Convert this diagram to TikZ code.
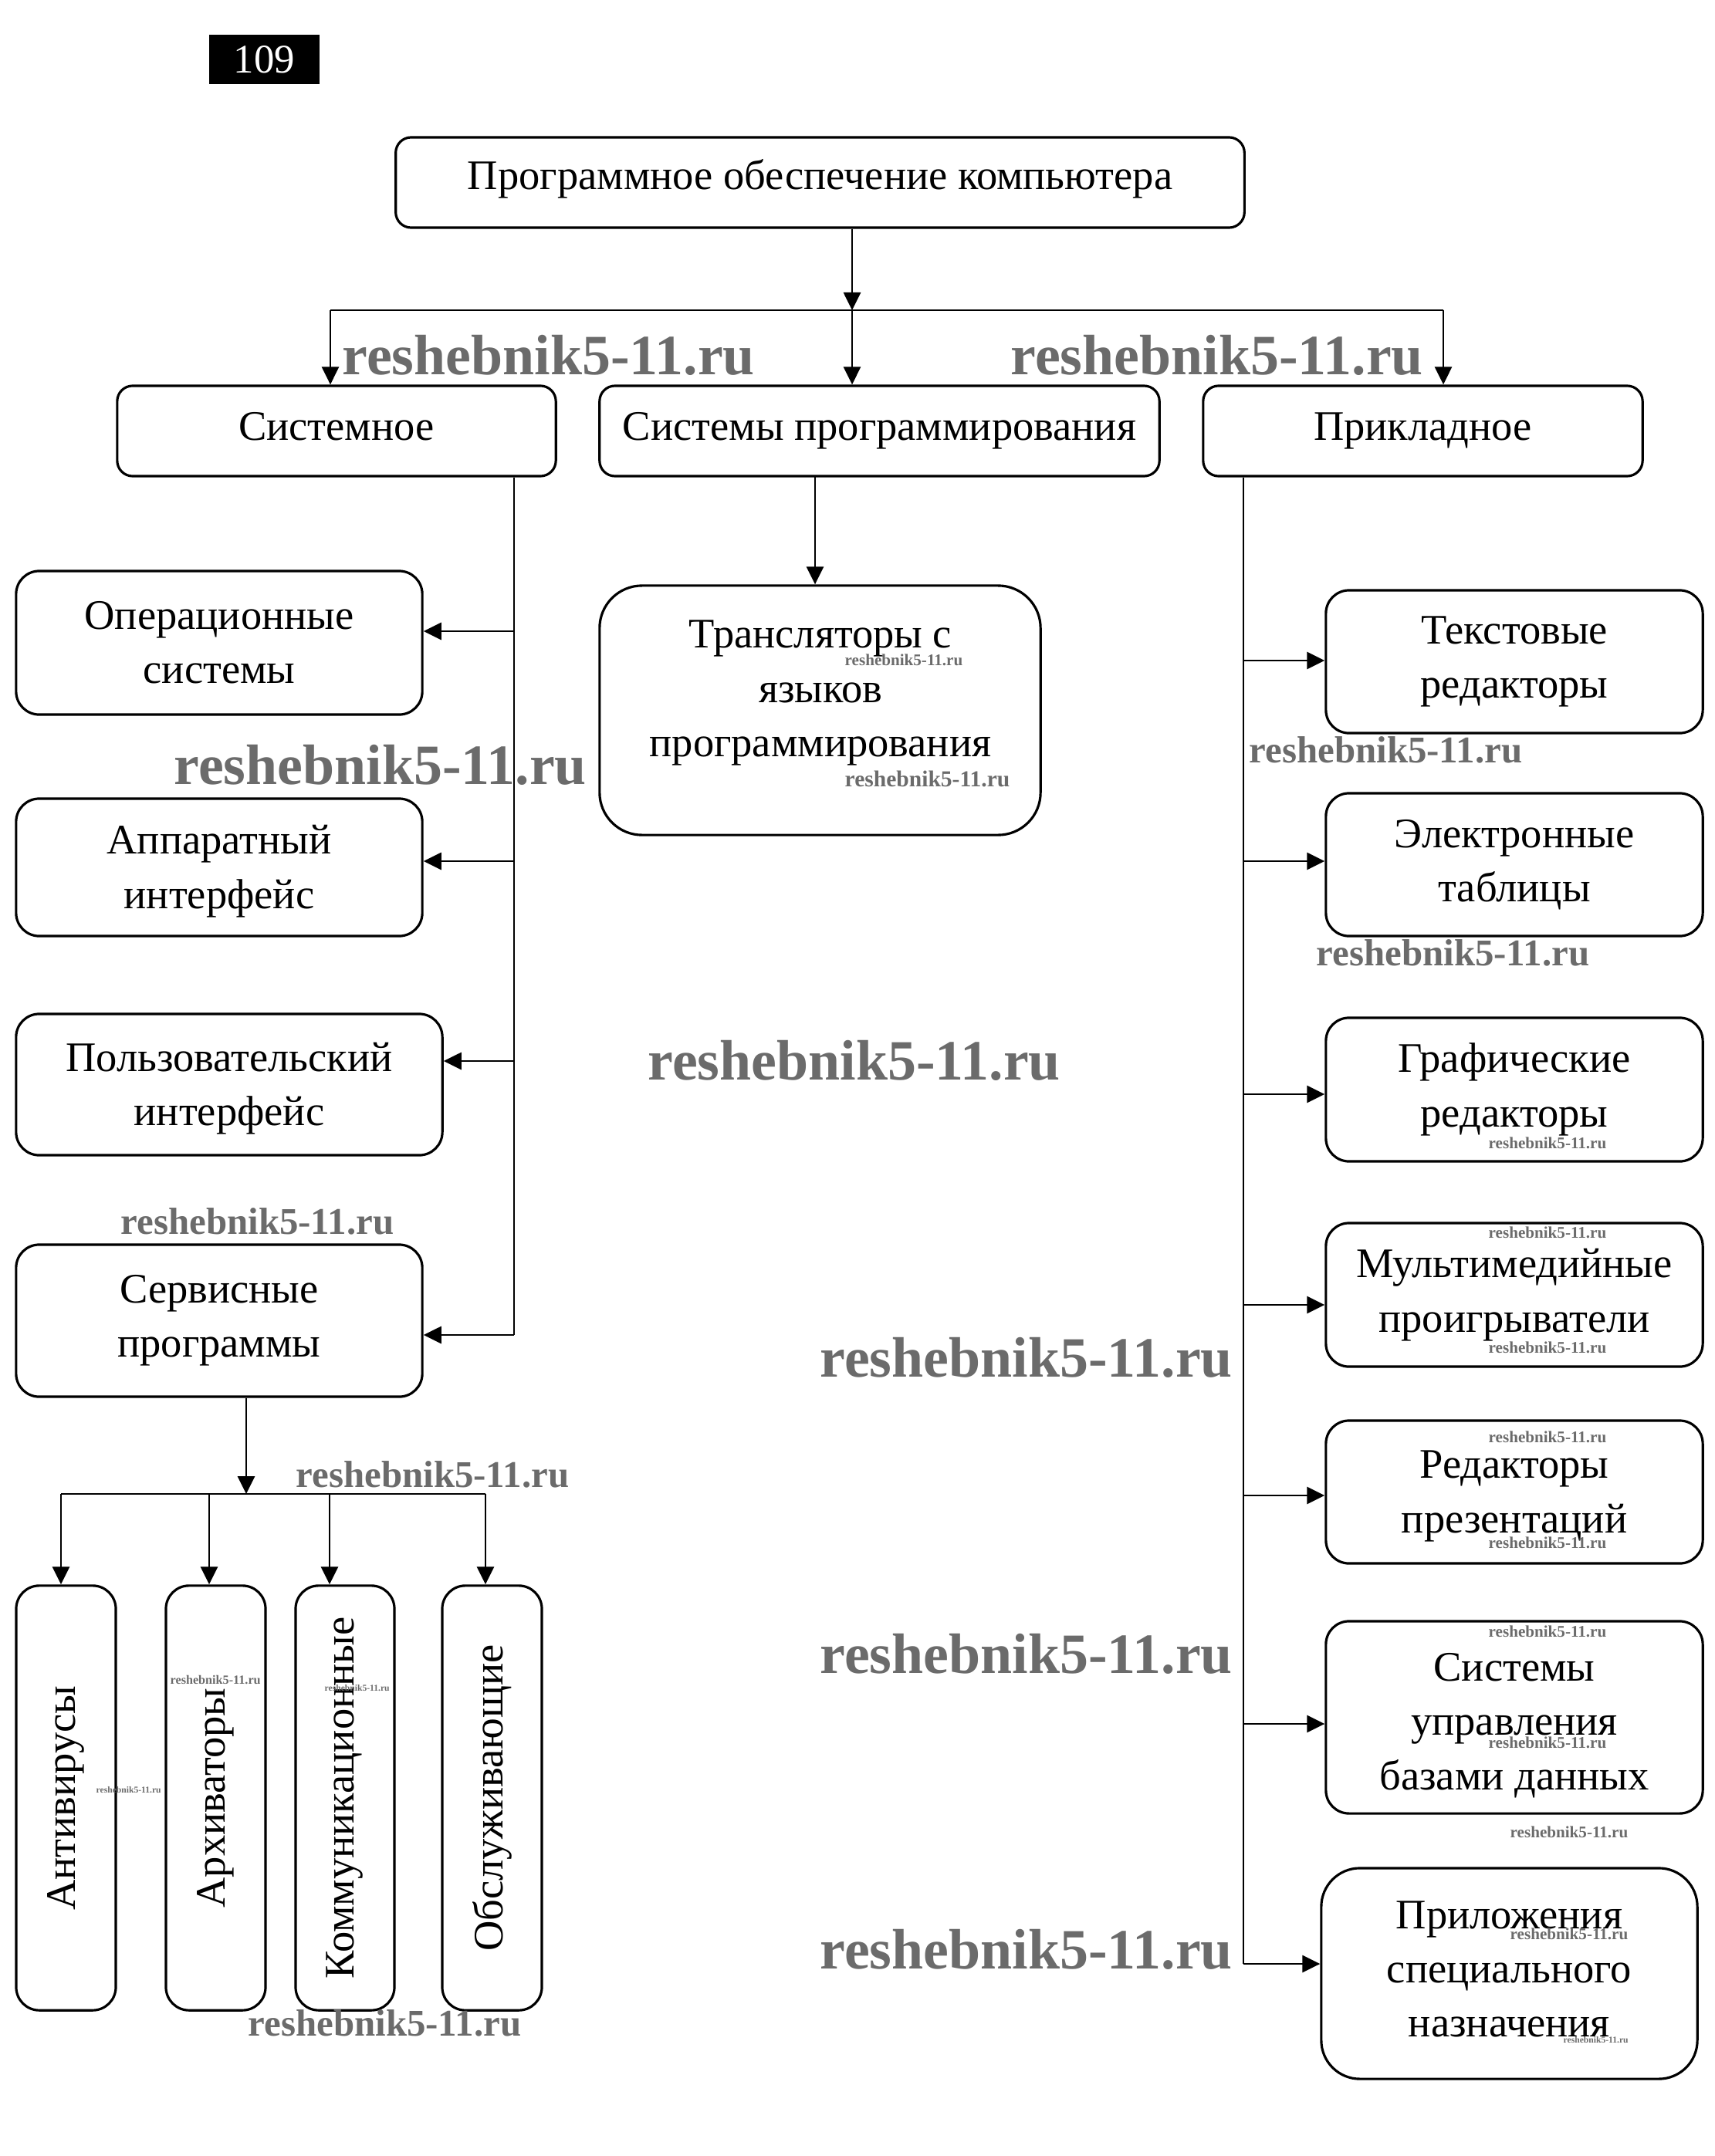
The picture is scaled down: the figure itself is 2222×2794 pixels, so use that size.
\documentclass[tikz,border=0pt]{standalone}
\usepackage{fontspec}
\setmainfont{Liberation Serif}
\usetikzlibrary{arrows.meta}
\newcommand{\mainsz}{\fontsize{15.5pt}{20pt}\selectfont}
\begin{document}
\begin{tikzpicture}[x=0.01cm,y=-0.01cm,
  box/.style={draw, line width=0.9pt, rounded corners=0.2cm, inner sep=0pt, align=center, font=\mainsz},
  boxb/.style={box, rounded corners=0.3cm},
  txt/.style={inner sep=0pt, align=center, font=\mainsz},
  arr/.style={-{Triangle[length=0.23cm,width=0.22cm]}, line width=0.8pt},
  ln/.style={line width=0.8pt},
  wm/.style={inner sep=0pt, anchor=base west, text=black!58, font=\bfseries\fontsize{#1}{#1}\selectfont}
]
\useasboundingbox (0,0) rectangle (2222,2794);

% page number
\node[fill=black, text=white, inner sep=0pt, minimum width=1.43cm, minimum height=0.64cm, font=\fontsize{15pt}{16pt}\selectfont] (pg) at (342.5,77) {109};

% level 0 and 1
\node[box, minimum width=10.99cm, minimum height=1.17cm] (top) at (1062.5,236.5) {};
\node[txt] (topt) at (1062.5,231.5) {Программное обеспечение компьютера};
\node[box, minimum width=5.68cm, minimum height=1.17cm] (sys) at (436,558.5) {Системное\vphantom{р}};
\node[box, minimum width=7.25cm, minimum height=1.17cm] (sp) at (1139.5,558.5) {Системы программирования};
\node[box, minimum width=5.69cm, minimum height=1.17cm] (app) at (1843.5,558.5) {Прикладное};

% system software
\node[boxb, minimum width=5.26cm, minimum height=1.86cm] (os) at (284,833) {Операционные\\системы};
\node[boxb, minimum width=5.26cm, minimum height=1.78cm] (hw) at (284,1124) {};
\node[txt] (hwt) at (284,1129) {Аппаратный\\интерфейс};
\node[boxb, minimum width=5.52cm, minimum height=1.83cm] (ui) at (297,1405.5) {};
\node[txt] (uit) at (297,1410.5) {Пользовательский\\интерфейс};
\node[boxb, minimum width=5.26cm, minimum height=1.97cm] (serv) at (284,1711.5) {Сервисные\\программы};

% service programs
\node[boxb, minimum width=1.29cm, minimum height=5.5cm] (av) at (85.5,2330) {};
\node[boxb, minimum width=1.29cm, minimum height=5.5cm] (arch) at (279.5,2330) {};
\node[boxb, minimum width=1.28cm, minimum height=5.5cm] (comm) at (447,2330) {};
\node[boxb, minimum width=1.29cm, minimum height=5.5cm] (obsl) at (637.5,2330) {};
\node[txt, rotate=90] (avt) at (av.center) {Антивирусы};
\node[txt, rotate=90] (archt) at (arch.center) {Архиваторы};
\node[txt, rotate=90] (commt) at (comm.center) {Коммуникационные};
\node[txt, rotate=90] (obslt) at (obsl.center) {Обслуживающие};

% programming systems
\node[box, rounded corners=0.55cm, minimum width=5.71cm, minimum height=3.23cm] (tr) at (1062.5,920.5) {};
\node[txt] (trt) at (1063,898) {Трансляторы с\\языков\\программирования};

% application software
\node[boxb, minimum width=4.88cm, minimum height=1.85cm] (te) at (1962,857.5) {Текстовые\\редакторы};
\node[boxb, minimum width=4.88cm, minimum height=1.85cm] (ss) at (1962,1120.5) {Электронные\\таблицы};
\node[boxb, minimum width=4.88cm, minimum height=1.86cm] (ge) at (1962,1412) {Графические\\редакторы};
\node[boxb, minimum width=4.88cm, minimum height=1.86cm] (mm) at (1962,1678) {Мультимедийные\\проигрыватели};
\node[boxb, minimum width=4.88cm, minimum height=1.85cm] (pe) at (1962,1933.5) {};
\node[txt] (pet) at (1962,1939) {Редакторы\\презентаций};
\node[boxb, minimum width=4.88cm, minimum height=2.49cm] (db) at (1962,2225.5) {};
\node[txt] (dbt) at (1962,2236) {Системы\\управления\\базами данных};
\node[box, rounded corners=0.5cm, minimum width=4.87cm, minimum height=2.73cm] (spec) at (1955.5,2557.5) {};
\node[txt] (spect) at (1955.5,2552) {Приложения\\специального\\назначения};

% top connectors
\coordinate (c1) at (1104,402);
\coordinate (hL) at (428,402);
\coordinate (hR) at (1870,402);
\draw[arr] (top.south -| c1) -- (c1);
\draw[ln] (hL) -- (hR);
\draw[arr] (hL) -- (hL |- sys.north);
\draw[arr] (c1) -- (c1 |- sp.north);
\draw[arr] (hR) -- (hR |- app.north);

% system branch
\coordinate (s1) at (666,818);
\coordinate (s2) at (666,1116);
\coordinate (s3) at (666,1375);
\coordinate (s4) at (666,1730);
\draw[ln] (sys.south -| s4) -- (s4);
\draw[arr] (s1) -- (s1 -| os.east);
\draw[arr] (s2) -- (s2 -| hw.east);
\draw[arr] (s3) -- (s3 -| ui.east);
\draw[arr] (s4) -- (s4 -| serv.east);

% service branch
\coordinate (v0) at (319,1936);
\coordinate (v1) at (79,1936);
\coordinate (v2) at (271,1936);
\coordinate (v3) at (427,1936);
\coordinate (v4) at (629,1936);
\draw[arr] (serv.south -| v0) -- (v0);
\draw[ln] (v1) -- (v4);
\draw[arr] (v1) -- (v1 |- av.north);
\draw[arr] (v2) -- (v2 |- arch.north);
\draw[arr] (v3) -- (v3 |- comm.north);
\draw[arr] (v4) -- (v4 |- obsl.north);

% programming branch
\coordinate (p1) at (1056,617);
\draw[arr] (p1) -- (p1 |- tr.north);

% application branch
\coordinate (r1) at (1611,856);
\coordinate (r2) at (1611,1116);
\coordinate (r3) at (1611,1418);
\coordinate (r4) at (1611,1691);
\coordinate (r5) at (1611,1938);
\coordinate (r6) at (1611,2234);
\coordinate (r7) at (1611,2545);
\draw[ln] (app.south -| r7) -- (r7);
\draw[arr] (r1) -- (r1 -| te.west);
\draw[arr] (r2) -- (r2 -| ss.west);
\draw[arr] (r3) -- (r3 -| ge.west);
\draw[arr] (r4) -- (r4 -| mm.west);
\draw[arr] (r5) -- (r5 -| pe.west);
\draw[arr] (r6) -- (r6 -| db.west);
\draw[arr] (r7) -- (r7 -| spec.west);

% watermarks
\node[wm=21pt] (w1) at (443,485) {reshebnik5-11.ru};
\node[wm=21pt] (w2) at (1309,485) {reshebnik5-11.ru};
\node[wm=21pt] (w3) at (225,1016) {reshebnik5-11.ru};
\node[wm=21pt] (w4) at (839,1399) {reshebnik5-11.ru};
\node[wm=21pt] (w5) at (1062,1784) {reshebnik5-11.ru};
\node[wm=21pt] (w6) at (1062,2168) {reshebnik5-11.ru};
\node[wm=21pt] (w7) at (1062,2551) {reshebnik5-11.ru};
\node[wm=13.9pt] (w8) at (1618,988) {reshebnik5-11.ru};
\node[wm=13.9pt] (w9) at (1705,1251) {reshebnik5-11.ru};
\node[wm=13.9pt] (w10) at (156,1599) {reshebnik5-11.ru};
\node[wm=13.9pt] (w11) at (383,1927) {reshebnik5-11.ru};
\node[wm=13.9pt] (w12) at (321,2638) {reshebnik5-11.ru};
\node[wm=6pt] (w13) at (1094,862) {reshebnik5-11.ru};
\node[wm=8.4pt] (w14) at (1094,1019) {reshebnik5-11.ru};
\node[wm=6pt] (w15) at (1928,1488) {reshebnik5-11.ru};
\node[wm=6pt] (w16) at (1928,1604) {reshebnik5-11.ru};
\node[wm=6pt] (w17) at (1928,1753) {reshebnik5-11.ru};
\node[wm=6pt] (w18) at (1928,1869) {reshebnik5-11.ru};
\node[wm=6pt] (w19) at (1928,2006) {reshebnik5-11.ru};
\node[wm=6pt] (w20) at (1928,2121) {reshebnik5-11.ru};
\node[wm=6pt] (w21) at (1928,2265) {reshebnik5-11.ru};
\node[wm=6pt] (w22) at (1956,2381) {reshebnik5-11.ru};
\node[wm=6pt] (w23) at (1956,2513) {reshebnik5-11.ru};
\node[wm=3.3pt] (w24) at (2025,2647) {reshebnik5-11.ru};
\node[wm=3.3pt] (w25) at (124,2323) {reshebnik5-11.ru};
\node[wm=4.6pt] (w26) at (220,2182) {reshebnik5-11.ru};
\node[wm=3.3pt] (w27) at (420,2191) {reshebnik5-11.ru};
\end{tikzpicture}
\end{document}
